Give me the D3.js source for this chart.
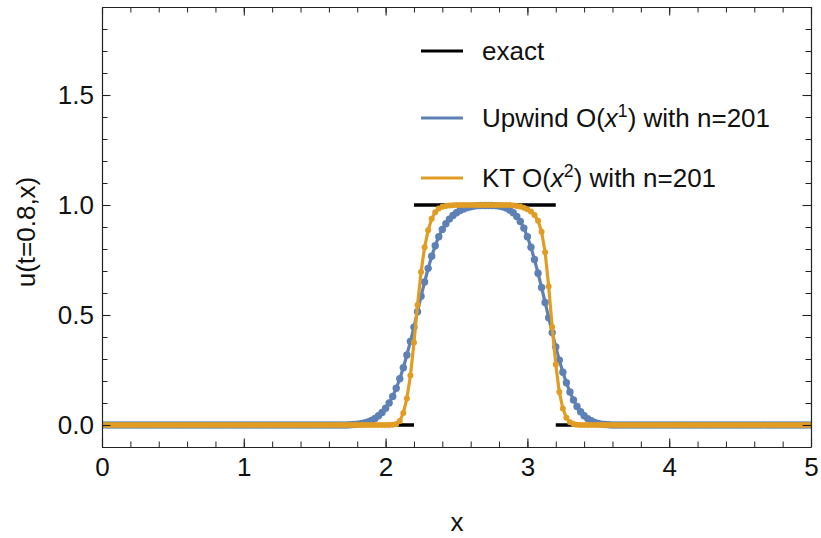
<!DOCTYPE html>
<html><head><meta charset="utf-8">
<script src="https://cdn.jsdelivr.net/npm/d3@7"></script>
<style>body{margin:0;background:#fff}svg{display:block}text{font-family:"Liberation Sans",Arial,sans-serif}</style>
</head><body><svg id="c" width="821" height="538"></svg>
<script>
// grid of n=201 points on [0,5]
const nPts = 201;
const xGrid = d3.range(nPts).map(i => +(i * 5 / (nPts - 1)).toFixed(4));

const z = k => Array(k).fill(0);
const o = k => Array(k).fill(1);

// Upwind O(x^1) values
const upwind = [].concat(z(70), [
  0.001,0.002,0.004,0.006,0.009,0.014,0.021,0.030,0.042,0.057,
  0.076,0.100,0.130,0.167,0.210,0.260,0.318,0.380,0.445,0.515,
  0.585,0.650,0.712,0.767,0.815,0.856,0.889,0.915,0.936,0.952,
  0.965,0.975,0.982,0.988,0.992,0.995,0.997,0.998,0.998,0.998,
  0.998,0.997,0.995,0.992,0.986,0.977,0.965,0.948,0.925,0.895,
  0.856,0.808,0.752,0.690,0.625,0.557,0.488,0.420,0.355,0.295,
  0.240,0.192,0.150,0.114,0.084,0.060,0.042,0.029,0.019,0.012,
  0.007,0.004,0.002,0.001], z(57));

// KT O(x^2) values
const kt = [].concat(z(82), [
  0.001,0.004,0.018,0.055,0.120,0.225,0.375,0.545,0.695,0.808,
  0.885,0.937,0.967,0.984,0.992,0.996,0.998,0.999], o(16), [
  0.998,0.996,0.993,0.988,0.981,0.971,0.955,0.928,0.878,0.785,
  0.630,0.445,0.275,0.150,0.075,0.033,0.012,0.004,0.001], z(66));

// exact solution pieces
const exactStart = [0, 2.2, 3.2];
const exactEnd   = [2.2, 3.2, 5];
const exactVal   = [0, 1, 0];

const xMajor = [0,1,2,3,4,5];
const xMajorLabels = ["0","1","2","3","4","5"];
const yMajor = [0,0.5,1,1.5];
const yMajorLabels = ["0.0","0.5","1.0","1.5"];
const xMinor = d3.range(0, 5.0001, 0.2).map(v => +v.toFixed(2));
const yMinor = d3.range(-0.1, 1.9001, 0.1).map(v => +v.toFixed(2));

const blue = "#5E81B5", orange = "#E19C24";

const svg = d3.select("#c");
const L = 102, R = 811, T = 7, B = 447;
const x = d3.scaleLinear([0,5],[L,R]);
const y = d3.scaleLinear([-0.1,1.9],[B,T]);

svg.append("defs").append("clipPath").attr("id","clip")
  .append("rect").attr("x",L).attr("y",T).attr("width",R-L).attr("height",B-T);

const plot = svg.append("g").attr("clip-path","url(#clip)");

// exact
plot.selectAll("line.exact").data(exactVal).join("line")
  .attr("x1",(d,i)=>x(exactStart[i])).attr("x2",(d,i)=>x(exactEnd[i]))
  .attr("y1",d=>y(d)).attr("y2",d=>y(d))
  .attr("stroke","#000").attr("stroke-width",3.5);

function series(vals, color, lw, r){
  const pts = xGrid.map((xv,i)=>[xv, vals[i]]);
  plot.append("path").datum(pts)
    .attr("d", d3.line().x(d=>x(d[0])).y(d=>y(d[1])))
    .attr("fill","none").attr("stroke",color).attr("stroke-width",lw).attr("stroke-linejoin","round");
  plot.append("g").selectAll("circle").data(pts).join("circle")
    .attr("cx",d=>x(d[0])).attr("cy",d=>y(d[1])).attr("r",r).attr("fill",color);
}
series(upwind, blue, 3.2, 3.7);
series(kt, orange, 3.2, 3.0);

// frame + ticks
const fs = 26;
function axis(gen, tr, major, labels, minor, showLabels, pad){
  const g = svg.append("g").attr("transform",tr);
  g.call(gen.tickValues(major).tickSizeInner(-8.5).tickSizeOuter(0).tickPadding(showLabels?pad:0)
    .tickFormat((d,i)=>showLabels?labels[i]:""));
  g.select(".domain").attr("stroke","#222").attr("stroke-width",1.2);
  g.selectAll(".tick line").attr("stroke","#222").attr("stroke-width",1.1);
  g.selectAll("text").attr("font-size",fs).attr("fill","#111")
    .attr("font-family","'Liberation Sans',Arial,sans-serif");
  const g2 = svg.append("g").attr("transform",tr);
  g2.call(gen.tickValues(minor).tickSizeInner(-5.5).tickSizeOuter(0).tickFormat(""));
  g2.select(".domain").remove();
  g2.selectAll(".tick line").attr("stroke","#222").attr("stroke-width",1);
  return g;
}
axis(d3.axisBottom(x), `translate(0,${B})`, xMajor, xMajorLabels, xMinor, true, 11);
axis(d3.axisTop(x), `translate(0,${T})`, xMajor, xMajorLabels, xMinor, false, 0);
axis(d3.axisLeft(y), `translate(${L},0)`, yMajor, yMajorLabels, yMinor, true, 8);
axis(d3.axisRight(y), `translate(${R},0)`, yMajor, yMajorLabels, yMinor, false, 0);

// axis titles
svg.append("text").attr("x",457).attr("y",531).attr("text-anchor","middle")
  .attr("font-size",fs).attr("fill","#111").text("x");
svg.append("text").attr("transform","translate(35,232) rotate(-90)").attr("text-anchor","middle")
  .attr("font-size",fs).attr("fill","#111").text("u(t=0.8,x)");

// legend
const legNames = ["exact","Upwind","KT"];
const legColors = ["#000", blue, orange];
const legWidths = [3.2, 2.8, 2.8];
const legY = [51, 118, 178];
const lg = svg.append("g");
legNames.forEach((nm,i)=>{
  lg.append("line").attr("x1",421).attr("x2",463).attr("y1",legY[i]).attr("y2",legY[i])
    .attr("stroke",legColors[i]).attr("stroke-width",legWidths[i]);
  const t = lg.append("text").attr("x",482).attr("y",legY[i]+9).attr("font-size",fs).attr("fill","#111");
  if(i===0){ t.text("exact"); }
  else {
    t.append("tspan").text(nm+" O(");
    t.append("tspan").attr("font-style","italic").text("x");
    t.append("tspan").attr("font-size",fs*0.68).attr("dy",-10).text(i===1?"1":"2");
    t.append("tspan").attr("dy",10).text(") with n=201");
  }
});
</script></body></html>
